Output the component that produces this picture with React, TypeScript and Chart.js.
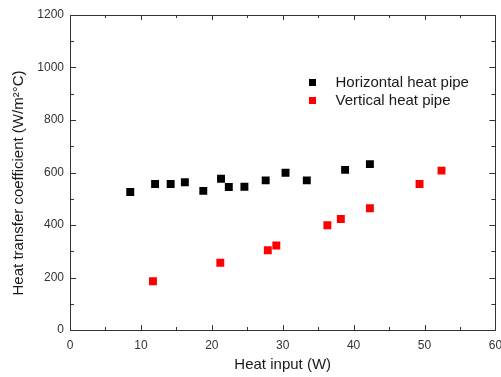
import React, { useEffect, useRef } from "react";
import { Chart, registerables } from "chart.js";

Chart.register(...registerables);

const horizontalX = [8.5, 12.0, 14.2, 16.2, 18.8, 21.3, 22.4, 24.6, 27.6, 30.4, 33.4, 38.8, 42.3];
const horizontalY = [526, 556, 556, 563, 530, 576, 545, 546, 570, 599, 570, 610, 632];
const verticalX = [11.7, 21.2, 27.9, 29.1, 36.3, 38.2, 42.3, 49.3, 52.4];
const verticalY = [186, 256, 304, 322, 399, 423, 464, 556, 607];

const seriesNames = ["Horizontal heat pipe", "Vertical heat pipe"];
const seriesColors = ["#000000", "#ff0000"];

const xTitle = "Heat input (W)";
const yTitle = "Heat transfer coefficient (W/m\u00b2\u00b0C)";

const FONT = "'Liberation Sans', Arial, sans-serif";

const framePlugin = {
  id: "frameTicks",
  afterDraw(chart: any) {
    const { ctx, chartArea } = chart;
    const { left, right, top, bottom } = chartArea;
    const xs = chart.scales.x;
    const ys = chart.scales.y;
    ctx.save();
    ctx.strokeStyle = "#333333";
    ctx.lineWidth = 1;
    ctx.beginPath();
    ctx.rect(Math.round(left) + 0.5, Math.round(top) + 0.5, Math.round(right - left), Math.round(bottom - top));
    ctx.stroke();
    ctx.beginPath();
    for (let v = 0; v <= 60; v += 5) {
      const px = Math.round(xs.getPixelForValue(v)) + 0.5;
      const len = v % 10 === 0 ? 5 : 3;
      ctx.moveTo(px, bottom);
      ctx.lineTo(px, bottom - len);
      ctx.moveTo(px, top);
      ctx.lineTo(px, top + len);
    }
    for (let v = 0; v <= 1200; v += 100) {
      const py = Math.round(ys.getPixelForValue(v)) + 0.5;
      const len = v % 200 === 0 ? 6 : 4;
      ctx.moveTo(left, py);
      ctx.lineTo(left + len, py);
      ctx.moveTo(right, py);
      ctx.lineTo(right - len, py);
    }
    ctx.stroke();

    // y axis title
    ctx.save();
    ctx.translate(18.5, ys.getPixelForValue(560));
    ctx.rotate(-Math.PI / 2);
    ctx.font = `15px ${FONT}`;
    ctx.fillStyle = "#1a1a1a";
    ctx.textAlign = "center";
    ctx.textBaseline = "middle";
    ctx.fillText(yTitle, 0, 0);
    ctx.restore();

    // legend inside plot
    const lx = xs.getPixelForValue(34.2);
    const ty = [ys.getPixelForValue(943), ys.getPixelForValue(874)];
    ctx.font = `15px ${FONT}`;
    ctx.textBaseline = "middle";
    ctx.textAlign = "left";
    for (let i = 0; i < seriesNames.length; i++) {
      ctx.fillStyle = seriesColors[i];
      ctx.fillRect(Math.round(lx - 3.5), Math.round(ty[i] - 3.5), 7, 7);
      ctx.fillStyle = "#1a1a1a";
      ctx.fillText(seriesNames[i], lx + 23, ty[i] + 0.5);
    }
    ctx.restore();
  },
};

export default function App() {
  const ref = useRef<HTMLCanvasElement | null>(null);
  useEffect(() => {
    if (!ref.current) return;
    const chart = new Chart(ref.current, {
      type: "scatter",
      data: {
        datasets: [
          {
            label: seriesNames[0],
            data: horizontalX.map((x, i) => ({ x, y: horizontalY[i] })),
            backgroundColor: seriesColors[0],
            borderColor: seriesColors[0],
            borderWidth: 0,
            pointStyle: "rect",
            pointRadius: 5.6,
          },
          {
            label: seriesNames[1],
            data: verticalX.map((x, i) => ({ x, y: verticalY[i] })),
            backgroundColor: seriesColors[1],
            borderColor: seriesColors[1],
            borderWidth: 0,
            pointStyle: "rect",
            pointRadius: 5.6,
          },
        ],
      },
      options: {
        responsive: false,
        animation: false,
        layout: { padding: { top: 15, right: 3, left: 0, bottom: 0 } },
        plugins: { legend: { display: false }, tooltip: { enabled: false } },
        scales: {
          x: {
            type: "linear",
            min: 0,
            max: 60,
            grid: { display: false, drawTicks: false },
            border: { display: false },
            ticks: {
              stepSize: 10,
              padding: 8,
              color: "#333333",
              font: { family: FONT, size: 12 },
              callback: (v: any) => String(v),
            },
            title: {
              display: true,
              text: xTitle,
              color: "#1a1a1a",
              font: { family: FONT, size: 15 },
              padding: { top: 0, bottom: 3 },
            },
            afterFit(scale: any) {
              scale.height = 47;
              scale.paddingLeft = 0;
              scale.paddingRight = 0;
            },
          },
          y: {
            type: "linear",
            min: 0,
            max: 1200,
            grid: { display: false, drawTicks: false },
            border: { display: false },
            ticks: {
              stepSize: 200,
              padding: 6,
              color: "#333333",
              font: { family: FONT, size: 12 },
              callback: (v: any) => String(v),
            },
            title: { display: false },
            afterFit(scale: any) {
              scale.width = 70;
              scale.paddingTop = 0;
              scale.paddingBottom = 0;
            },
          },
        },
      },
      plugins: [framePlugin],
    });
    return () => chart.destroy();
  }, []);
  return (
    <div style={{ position: "fixed", left: 0, top: 0, width: 501, height: 377, background: "#fff" }}>
      <canvas ref={ref} width={501} height={377} style={{ display: "block" }} />
    </div>
  );
}
